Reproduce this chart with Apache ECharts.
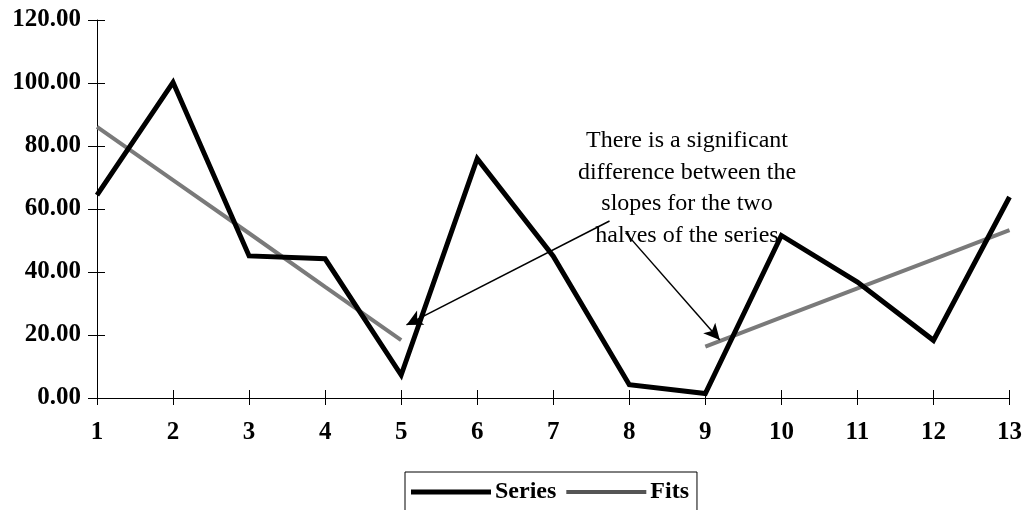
<!DOCTYPE html>
<html>
<head>
<meta charset="utf-8">
<script src="https://cdn.jsdelivr.net/npm/echarts@6/dist/echarts.min.js"></script>
<style>html,body{margin:0;padding:0;background:#fff;}#c{width:1025px;height:510px;}</style>
</head>
<body>
<div id="c"></div>
<script>
const categories = [1, 2, 3, 4, 5, 6, 7, 8, 9, 10, 11, 12, 13];
const seriesValues = [64.4, 100.2, 45.1, 44.2, 7.3, 76.0, 45.0, 4.2, 1.4, 51.6, 36.8, 18.3, 63.8];
const fitFirstX = [1, 2, 3, 4, 5];
const fitFirstValues = [86.1, 69.2, 52.3, 35.3, 18.4];
const fitSecondX = [9, 10, 11, 12, 13];
const fitSecondValues = [16.3, 25.6, 34.8, 44.0, 53.3];
const yTicks = [0, 20, 40, 60, 80, 100, 120];
const annotationText = ['There is a significant', 'difference between the', 'slopes for the two', 'halves of the series'];
const arrowA = [[7.74, 56.2], [5.07, 23.2]];
const arrowB = [[7.95, 52.5], [9.19, 18.4]];

const FONT = '"Liberation Serif", "Times New Roman", serif';
const chart = echarts.init(document.getElementById('c'));
const pair = (xs, ys) => xs.map((x, i) => [x, ys[i]]);

const axisCommonX = {
  type: 'value', min: categories[0], max: categories[categories.length - 1], interval: 1,
  splitLine: { show: false }
};
const axisCommonY = {
  type: 'value', min: yTicks[0], max: yTicks[yTicks.length - 1], interval: yTicks[1] - yTicks[0],
  splitLine: { show: false }
};

chart.setOption({
  animation: false,
  backgroundColor: '#fff',
  grid: { left: 97, right: 15, top: 20, bottom: 112 },
  xAxis: [
    Object.assign({}, axisCommonX, {
      axisLine: { show: true, lineStyle: { color: '#000', width: 1 } },
      axisTick: { show: true, length: 7, lineStyle: { color: '#000' } },
      axisLabel: { color: '#000', fontFamily: FONT, fontWeight: 'bold', fontSize: 25, margin: 22 }
    }),
    Object.assign({}, axisCommonX, {
      position: 'bottom',
      axisLine: { show: false },
      axisTick: { show: true, inside: true, length: 8, lineStyle: { color: '#000' } },
      axisLabel: { show: false }
    })
  ],
  yAxis: [
    Object.assign({}, axisCommonY, {
      axisLine: { show: true, lineStyle: { color: '#000', width: 1 } },
      axisTick: { show: true, length: 9, lineStyle: { color: '#000' } },
      axisLabel: { color: '#000', fontFamily: FONT, fontWeight: 'bold', fontSize: 25, margin: 16,
        formatter: v => v.toFixed(2) }
    }),
    Object.assign({}, axisCommonY, {
      position: 'left',
      axisLine: { show: false },
      axisTick: { show: true, inside: true, length: 8, lineStyle: { color: '#000' } },
      axisLabel: { show: false }
    })
  ],
  legend: {
    left: 405, top: 472,
    data: [
      { name: 'Series', icon: 'path://M0,0 L80,0 L80,5 L0,5 Z' },
      { name: 'Fits', icon: 'path://M0,0 L80,0 L80,4 L0,4 Z' }
    ],
    itemWidth: 80, itemHeight: 14, itemGap: 10,
    borderColor: '#000', borderWidth: 1, padding: [8, 8, 14, 6],
    textStyle: { fontFamily: FONT, fontWeight: 'bold', fontSize: 24, color: '#000', padding: [0, 0, 0, -1] }
  },
  graphic: [{
    type: 'text', x: 687, y: 125, z: 100,
    style: {
      text: annotationText.join('\n'), textAlign: 'center', textVerticalAlign: 'top',
      font: '24px ' + FONT, lineHeight: 31.5, fill: '#000'
    }
  }],
  series: [
    {
      name: 'Fits', type: 'line', symbol: 'none', z: 2,
      data: pair(fitFirstX, fitFirstValues),
      lineStyle: { color: '#7a7a7a', width: 4 }, itemStyle: { color: '#555' }
    },
    {
      name: 'Fits', type: 'line', symbol: 'none', z: 2,
      data: pair(fitSecondX, fitSecondValues),
      lineStyle: { color: '#7a7a7a', width: 4 }, itemStyle: { color: '#555' }
    },
    {
      name: 'Series', type: 'line', symbol: 'none', z: 3,
      data: pair(categories, seriesValues),
      lineStyle: { color: '#000', width: 5, join: 'miter' }, itemStyle: { color: '#000' },
      markLine: {
        silent: true, symbol: ['none', 'arrow'], symbolSize: [12, 16],
        label: { show: false },
        lineStyle: { color: '#000', width: 1.5, type: 'solid' },
        data: [
          [{ coord: arrowA[0] }, { coord: arrowA[1] }],
          [{ coord: arrowB[0] }, { coord: arrowB[1] }]
        ]
      }
    }
  ]
});
</script>
</body>
</html>
